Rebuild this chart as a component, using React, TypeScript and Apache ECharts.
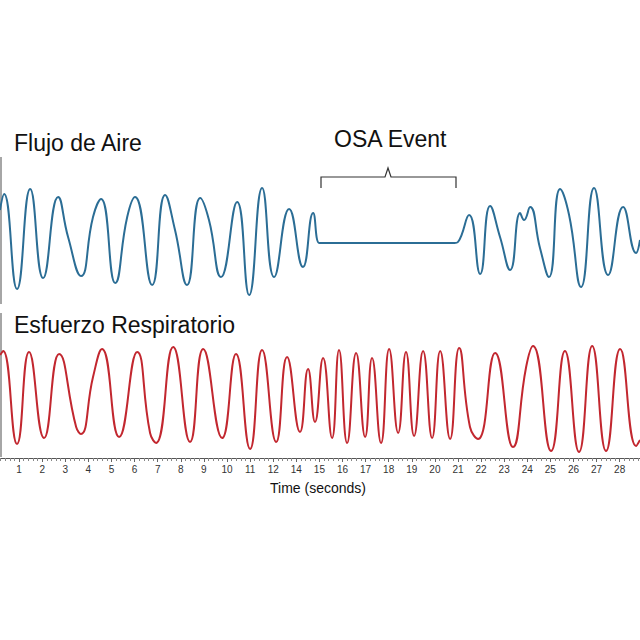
import React, { useEffect, useRef } from "react";
import * as echarts from "echarts";

// Tick labels shown on the time axis (the original skips 13)
const tickLabels = ["1","2","3","4","5","6","7","8","9","10","11","12","14","15","16","17","18","19","20","21","22","23","24","25","26","27","28"];

// Airflow trace (axis position, amplitude)
const airflowT = [0.17,0.35,0.91,1.48,2.04,2.69,3.12,3.68,4.2,4.55,5.16,5.68,6.02,6.76,7.32,7.75,8.27,8.84,9.22,9.74,10.44,10.96,11.52,12.04,12.69,13.29,13.73,13.99,14.15,19.85,20.0,20.48,20.96,21.39,21.82,22.26,22.69,22.86,23.12,23.55,23.94,24.42,24.81,25.33,25.89,26.5,27.15,27.71,27.88];
const airflowV = [3.3,4.9,-4.6,5.4,-3.5,4.6,0.6,-3.3,2.6,4.4,-4.0,2.6,4.6,-4.2,4.8,1.3,-4.2,4.5,2.3,-3.4,4.1,-5.2,5.5,-3.4,3.4,-2.4,3.0,0,0,0,0.1,2.8,-3.1,3.7,0.6,-2.7,3.0,2.3,3.6,-0.5,-3.4,5.4,2.8,-4.4,5.5,-3.2,3.6,-1.0,0.3];

// Respiratory effort trace
const effortT = [0.18,0.31,0.91,1.43,2.08,2.73,3.47,3.68,4.2,4.59,5.33,6.11,6.67,6.93,7.67,8.4,8.97,9.79,10.39,11.0,11.52,12.13,12.6,13.16,13.51,13.81,14.16,14.55,14.85,15.2,15.59,15.98,16.28,16.67,17.02,17.41,17.75,18.1,18.49,18.88,19.23,19.66,20.05,20.52,20.87,21.61,22.38,22.95,23.25,24.03,24.63,25.24,25.81,26.41,27.02,27.71,27.88];
const effortV = [4.5,4.9,-4.4,4.8,-3.8,4.6,-2.7,-3.4,2.3,5.1,-3.7,4.8,-3.3,-4.3,5.3,-4.2,5.1,-3.8,4.6,-4.9,5.0,-4.2,4.3,-3.2,3.1,-2.2,4.2,-3.8,5.0,-4.3,4.7,-3.7,4.2,-4.3,5.1,-3.3,4.8,-3.6,4.9,-3.8,4.9,-3.9,5.2,-2.7,-3.9,4.7,-4.7,3.3,5.4,-5.1,4.9,-5.2,5.4,-5.1,5.1,-4.6,-4.0];

const zip = (a: number[], b: number[]) => a.map((v, i) => [v, b[i]]);

const FONT = "'Liberation Sans Narrow', 'Liberation Sans', Arial, sans-serif";

export default function App() {
  const ref = useRef<HTMLDivElement>(null);
  useEffect(() => {
    if (!ref.current) return;
    const chart = echarts.init(ref.current, null, { renderer: "svg" });
    const xMax = 27.88;
    chart.setOption({
      animation: false,
      backgroundColor: "#ffffff",
      grid: [
        { left: -4, right: 0, top: 158, height: 150, outerBoundsMode: "none" },
        { left: -4, right: 0, top: 313, height: 145, outerBoundsMode: "none" },
      ],
      xAxis: [
        { gridIndex: 0, type: "value", min: 0, max: xMax, interval: 1, show: false },
        {
          gridIndex: 1, type: "value", min: 0, max: xMax, interval: 1, position: "bottom",
          axisLine: { show: true, onZero: false, lineStyle: { color: "#555", width: 1 } },
          axisTick: { show: true, length: 4, lineStyle: { color: "#666" } },
          minorTick: { show: true, splitNumber: 5, length: 3, lineStyle: { color: "#888" } },
          splitLine: { show: false },
          axisLabel: {
            margin: 6, fontSize: 10, color: "#333", fontFamily: FONT,
            formatter: (v: number) => (v >= 1 && v <= tickLabels.length ? tickLabels[Math.round(v) - 1] : ""),
          },
          name: "Time (seconds)", nameLocation: "middle", nameGap: 23,
          nameTextStyle: { fontSize: 14, color: "#111", fontFamily: FONT },
        },
      ],
      yAxis: [
        { gridIndex: 0, type: "value", min: -6.5, max: 8.5, show: false },
        { gridIndex: 1, type: "value", min: -5.8, max: 8.7, show: false },
      ],
      series: [
        {
          type: "line", xAxisIndex: 0, yAxisIndex: 0, data: zip(airflowT, airflowV),
          smooth: 0.5, showSymbol: false, lineStyle: { color: "#2b6d95", width: 2 },
        },
        {
          type: "line", xAxisIndex: 1, yAxisIndex: 1, data: zip(effortT, effortV),
          smooth: 0.5, showSymbol: false, lineStyle: { color: "#c2272f", width: 2 },
        },
      ],
      graphic: [
        { type: "line", shape: { x1: 1, y1: 157, x2: 1, y2: 304 }, style: { stroke: "#888", lineWidth: 1.5 } },
        { type: "line", shape: { x1: 1, y1: 313, x2: 1, y2: 457 }, style: { stroke: "#888", lineWidth: 1.5 } },
        { type: "text", left: 14, top: 131, style: { text: "Flujo de Aire", fontSize: 23, fill: "#111", fontFamily: FONT } },
        { type: "text", left: 14, top: 313, style: { text: "Esfuerzo Respiratorio", fontSize: 23, fill: "#111", fontFamily: FONT } },
        { type: "text", left: 334, top: 127, style: { text: "OSA Event", fontSize: 23, fill: "#111", fontFamily: FONT } },
        {
          type: "polyline",
          shape: { points: [[321, 188], [321, 177], [385, 177], [388, 168], [391, 177], [456, 177], [456, 188]] },
          style: { stroke: "#333", lineWidth: 1.2, fill: null },
        },
      ],
    });
    return () => chart.dispose();
  }, []);
  return <div ref={ref} style={{ position: "fixed", left: 0, top: 0, width: 640, height: 640 }} />;
}
